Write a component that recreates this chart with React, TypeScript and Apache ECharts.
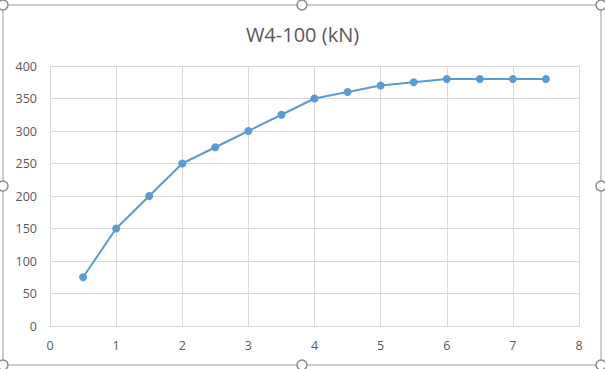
import React, { useEffect, useRef } from "react";
import * as echarts from "echarts";

const title = "W4-100 (kN)";
const xValues = [0.5, 1, 1.5, 2, 2.5, 3, 3.5, 4, 4.5, 5, 5.5, 6, 6.5, 7, 7.5];
const yValues = [75, 150, 200, 250, 275, 300, 325, 350, 360, 370, 375, 380, 380, 380, 380];

export default function App() {
  const ref = useRef<HTMLDivElement>(null);
  useEffect(() => {
    if (!ref.current) return;
    const chart = echarts.init(ref.current, null, { renderer: "svg" });
    const handleStyle = { fill: "#ffffff", stroke: "#8c8c8c", lineWidth: 1.5 };
    const handles = [
      [3, 5], [302, 5], [601, 5],
      [3, 186], [601, 186],
      [3, 365], [302, 365], [601, 365],
    ].map(([cx, cy]) => ({
      type: "circle",
      shape: { cx, cy, r: 5 },
      style: handleStyle,
      z: 10,
    }));
    chart.setOption({
      animation: false,
      backgroundColor: "#ffffff",
      textStyle: { fontFamily: "Open Sans" },
      title: {
        text: title,
        left: "center",
        top: 19,
        textStyle: { fontFamily: "Open Sans", fontSize: 20, fontWeight: "normal", color: "#595959" },
      },
      grid: { left: 50, right: 26, top: 66, bottom: 43 },
      xAxis: {
        type: "value",
        min: 0,
        max: 8,
        interval: 1,
        axisLine: { show: true, lineStyle: { color: "#d9d9d9" } },
        axisTick: { show: false },
        axisLabel: { color: "#595959", fontSize: 12.5, margin: 13 },
        splitLine: { show: true, lineStyle: { color: "#d9d9d9" } },
      },
      yAxis: {
        type: "value",
        min: 0,
        max: 400,
        interval: 50,
        axisLine: { show: true, lineStyle: { color: "#d9d9d9" } },
        axisTick: { show: false },
        axisLabel: { color: "#595959", fontSize: 12.5, margin: 13 },
        splitLine: { show: true, lineStyle: { color: "#d9d9d9" } },
      },
      series: [
        {
          type: "line",
          data: xValues.map((x, i) => [x, yValues[i]]),
          symbol: "circle",
          symbolSize: 8,
          lineStyle: { color: "#5b9bd5", width: 2 },
          itemStyle: { color: "#5b9bd5" },
        },
      ],
      graphic: [
        {
          type: "rect",
          shape: { x: 3, y: 5, width: 598, height: 360 },
          style: { fill: "none", stroke: "#bfbfbf", lineWidth: 1.5 },
          z: 9,
        },
        ...handles,
      ],
    });
    return () => chart.dispose();
  }, []);
  return (
    <div
      ref={ref}
      style={{ position: "absolute", left: 0, top: 0, width: 605, height: 369 }}
    />
  );
}
